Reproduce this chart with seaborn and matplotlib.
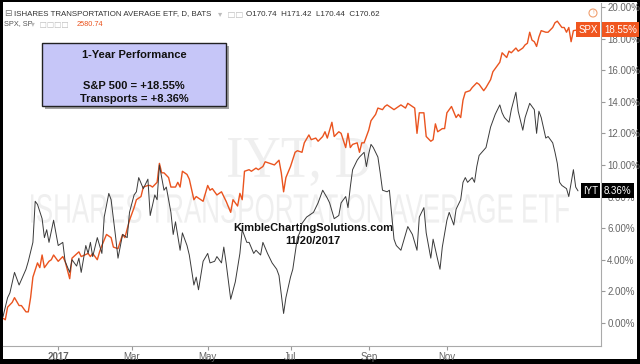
import matplotlib
matplotlib.use('Agg')
import matplotlib.pyplot as plt
import matplotlib.transforms as mtransforms
from matplotlib.patches import Rectangle, PathPatch, Circle
from matplotlib.textpath import TextPath
from matplotlib.font_manager import FontProperties
import pandas as pd
import seaborn as sns

W, H = 640, 364
SPX_COLOR = '#ea541f'
IYT_COLOR = '#3a3a3a'

# trading-session index (0 = mid Nov 2016) and % change since start
iyt_session = [0, 2, 3, 5, 7, 10, 11, 13, 14, 15,
               17, 18, 19, 20, 22, 24, 26, 27, 29, 30,
               32, 33, 34, 36, 37, 38, 39, 41, 43, 44,
               46, 47, 49, 50, 52, 54, 55, 57, 58, 59,
               61, 63, 64, 66, 67, 68, 70, 71, 73, 74,
               75, 77, 78, 80, 81, 83, 84, 85, 87, 89,
               90, 92, 93, 95, 96, 97, 99, 101, 103, 104,
               106, 107, 109, 110, 112, 113, 115, 117, 119, 120,
               122, 123, 125, 126, 128, 129, 130, 132, 133, 135,
               137, 139, 141, 142, 144, 146, 147, 149, 150, 151,
               152, 154, 155, 157, 158, 159, 160, 161, 163, 164,
               165, 167, 168, 170, 171, 173, 174, 176, 178, 180,
               181, 183, 184, 186, 187, 189, 190, 191, 193, 194,
               196, 197, 199, 200, 201, 202, 204, 205, 206, 207,
               210, 212, 214, 216, 217, 218, 220, 221, 223, 224,
               226, 227, 229, 230, 231, 232, 233, 234, 236, 237,
               239, 240, 241, 242, 243, 245, 246, 248, 249, 250]
iyt_pct = [0.4, 1.6, 1.9, 3.2, 2.4, 3.4, 3.9, 5.1, 7.7, 7.5,
           6.6, 5.4, 5.9, 5.1, 6.5, 4.9, 5.1, 3.9, 3.2, 4.0,
           3.6, 4.1, 3.2, 4.9, 4.4, 5.1, 4.2, 5.4, 4.4, 6.7,
           8.2, 7.8, 5.4, 4.1, 5.6, 5.4, 7.0, 8.1, 8.3, 9.2,
           8.5, 9.1, 6.8, 8.1, 7.8, 10.0, 8.4, 8.6, 7.0, 5.6,
           6.4, 4.6, 5.7, 4.9, 4.3, 2.4, 2.9, 2.1, 3.9, 4.4,
           3.8, 3.9, 4.2, 3.8, 4.8, 3.8, 1.5, 2.6, 4.4, 5.9,
           5.1, 5.1, 4.4, 4.6, 4.3, 5.1, 4.4, 3.8, 3.4, 3.0,
           0.6, 1.6, 2.9, 3.4, 5.4, 5.7, 6.3, 6.7, 6.8, 7.0,
           7.6, 8.4, 7.9, 7.6, 6.6, 6.8, 7.6, 8.0, 7.3, 8.6,
           9.7, 10.3, 10.5, 10.8, 9.9, 10.7, 11.3, 11.1, 10.5, 9.5,
           8.4, 8.3, 8.4, 5.3, 4.9, 4.6, 5.1, 6.1, 5.6, 4.6,
           6.7, 7.3, 5.7, 4.1, 5.3, 4.0, 3.4, 4.8, 6.5, 7.0,
           6.2, 7.2, 7.8, 8.9, 9.2, 8.9, 9.2, 8.9, 9.9, 10.6,
           11.1, 12.4, 13.2, 13.8, 13.3, 13.0, 12.7, 13.5, 14.6, 13.4,
           12.2, 13.0, 13.9, 13.7, 13.5, 12.0, 13.4, 13.0, 11.7, 11.8,
           11.4, 10.8, 10.1, 8.9, 8.7, 8.5, 8.0, 9.7, 8.6, 8.36]

spx_session = [0, 1, 2, 4, 5, 7, 8, 10, 11, 12,
               13, 15, 16, 17, 18, 20, 21, 22, 24, 26,
               27, 29, 30, 33, 34, 37, 38, 39, 41, 42,
               43, 45, 47, 48, 50, 52, 53, 55, 57, 58,
               60, 61, 63, 64, 65, 67, 68, 69, 70, 72,
               73, 75, 76, 77, 78, 80, 81, 83, 84, 87,
               89, 90, 91, 93, 95, 97, 99, 100, 102, 103,
               104, 105, 107, 108, 110, 111, 113, 114, 116, 118,
               120, 121, 122, 123, 125, 127, 128, 130, 131, 133,
               134, 136, 137, 139, 140, 141, 143, 144, 146, 147,
               149, 150, 151, 152, 154, 155, 156, 157, 159, 160,
               162, 163, 165, 166, 167, 169, 170, 172, 173, 175,
               176, 178, 179, 180, 181, 183, 184, 186, 187, 188,
               189, 191, 192, 193, 195, 197, 198, 199, 200, 201,
               203, 204, 206, 207, 209, 210, 212, 213, 215, 216,
               217, 219, 220, 221, 223, 224, 226, 227, 228, 229,
               230, 231, 232, 233, 234, 236, 237, 239, 240, 241,
               243, 244, 245, 246, 247, 248, 250]
spx_pct = [0.3, 0.2, 1.0, 1.3, 1.6, 1.1, 1.1, 0.7, 0.7, 1.6,
           2.9, 3.8, 3.5, 4.3, 3.5, 3.9, 4.0, 4.3, 3.9, 4.2,
           3.9, 2.8, 4.1, 4.5, 4.2, 4.4, 4.2, 4.4, 4.0, 4.5,
           4.9, 5.6, 5.4, 4.8, 4.7, 5.6, 5.4, 6.5, 7.3, 7.8,
           8.0, 8.6, 8.7, 8.7, 8.6, 8.9, 10.1, 9.5, 9.5, 9.2,
           8.6, 8.6, 8.9, 8.6, 9.6, 9.4, 9.1, 7.8, 8.0, 7.7,
           8.7, 8.4, 8.5, 8.1, 8.3, 7.7, 7.0, 7.8, 7.4, 8.2,
           7.8, 9.6, 9.7, 9.6, 9.8, 9.7, 9.9, 10.2, 10.1, 10.0,
           10.3, 9.5, 8.3, 9.2, 9.9, 10.8, 10.9, 10.8, 11.4, 11.9,
           11.6, 11.7, 11.5, 11.8, 12.1, 11.7, 12.7, 11.8, 12.1, 12.0,
           11.1, 12.0, 11.1, 11.3, 11.4, 10.8, 11.4, 11.4, 12.2, 12.8,
           13.2, 13.6, 13.5, 13.7, 13.8, 13.6, 13.5, 13.7, 13.8, 13.6,
           13.9, 13.7, 13.6, 12.0, 13.3, 13.3, 11.8, 11.5, 11.6, 12.6,
           12.1, 12.3, 12.3, 13.3, 13.7, 13.0, 13.2, 13.0, 14.1, 14.6,
           14.7, 14.9, 15.2, 15.1, 14.7, 14.9, 15.4, 15.9, 16.3, 16.5,
           17.1, 16.8, 17.2, 17.1, 17.4, 17.2, 17.4, 17.6, 17.7, 18.4,
           17.9, 17.8, 17.5, 18.1, 18.5, 18.4, 18.4, 18.7, 19.0, 19.1,
           18.7, 18.7, 18.4, 18.7, 17.8, 18.5, 18.55]

tick_sessions = [24, 56, 89, 125, 159, 193]
tick_labels = ['2017', 'Mar', 'May', 'Jul', 'Sep', 'Nov']
pct_ticks = [0, 2, 4, 6, 8, 10, 12, 14, 16, 18, 20]


def px(x, y):
    # pixel position (from top-left) -> figure fraction
    return x / W, 1 - y / H


def stretched_text(fig, text, box, family, color, weight='normal'):
    x0, y0, x1, y1 = box
    tp = TextPath((0, 0), text, size=20, prop=FontProperties(family=family, weight=weight))
    ext = tp.get_extents()
    tr = (mtransforms.Affine2D().translate(-ext.x0, -ext.y0)
          .scale((x1 - x0) / ext.width, (y1 - y0) / ext.height)
          .translate(x0, H - y1))
    fig.add_artist(PathPatch(tr.transform_path(tp), fc=color, ec='none', lw=0,
                             transform=mtransforms.IdentityTransform(), zorder=-0.5))


iyt = pd.DataFrame({'session': iyt_session, 'pct': iyt_pct})
spx = pd.DataFrame({'session': spx_session, 'pct': spx_pct})

sns.set_style('white')
plt.rcParams['font.family'] = ['Liberation Sans', 'DejaVu Sans']

fig = plt.figure(figsize=(W / 100, H / 100), dpi=100)
fig.patch.set_facecolor('black')
ident = mtransforms.IdentityTransform()
fig.add_artist(Rectangle((3, 5), 634, 357, transform=ident, fc='white', ec='none', zorder=-1))

# watermarks
stretched_text(fig, 'IYT, D', (228, 138, 370, 186), 'Liberation Serif', '#efefef')
stretched_text(fig, 'ISHARES TRANSPORTATION AVERAGE ETF', (31, 194, 569, 223),
               'Liberation Sans', '#efefef')

ax = fig.add_axes([3 / W, 18 / H, 598 / W, 343 / H])
ax.patch.set_visible(False)

sns.lineplot(data=spx, x='session', y='pct', ax=ax, color=SPX_COLOR, linewidth=1.0)
sns.lineplot(data=iyt, x='session', y='pct', ax=ax, color=IYT_COLOR, linewidth=0.7)

ax.set_xlim(0, 260)
ax.set_ylim(-1.46, 20.25)
ax.set_xlabel('')
ax.set_ylabel('')
ax.yaxis.tick_right()
ax.set_yticks(pct_ticks)
ax.set_yticklabels([f'{v:.2f}%' for v in pct_ticks])
ax.set_xticks(tick_sessions)
ax.set_xticklabels(tick_labels)
ax.xaxis.get_ticklabels()[0].set_fontweight('bold')
ax.xaxis.get_ticklabels()[0].set_color('#222222')
ax.tick_params(axis='both', direction='out', length=3, width=0.8, color='#999999',
               labelsize=7, labelcolor='#666666', pad=1.5, bottom=True, right=True, left=False)
for side in ['left', 'top']:
    ax.spines[side].set_visible(False)
for side in ['right', 'bottom']:
    ax.spines[side].set_color('#aaaaaa')
    ax.spines[side].set_linewidth(0.8)

# last-value tags on the price scale
ytr = ax.get_yaxis_transform()
for name, val, col in [('SPX', spx_pct[-1], '#f0561f'), ('IYT', iyt_pct[-1], '#000000')]:
    ax.text(1 - 3 / 598, val, name, transform=ytr, ha='right', va='center', fontsize=7,
            color='white', zorder=10, bbox=dict(boxstyle='square,pad=0.25', fc=col, ec='none'))
    ax.text(1 + 3 / 598, val, f'{val:.2f}%', transform=ytr, ha='left', va='center', fontsize=7,
            color='white', zorder=10, bbox=dict(boxstyle='square,pad=0.25', fc=col, ec='none'))

# header
fig.text(*px(4, 14), '\u229f', fontsize=6.5, color='#777777', va='center', family='DejaVu Sans')
fig.text(*px(14, 14), 'ISHARES TRANSPORTATION AVERAGE ETF, D, BATS', fontsize=5.7,
         color='#333333', va='center')
fig.text(*px(218, 14), '\u25be  \u25a1\u25a1', fontsize=6, color='#bbbbbb', va='center',
         family='DejaVu Sans')
fig.text(*px(246, 14), 'O170.74  H171.42  L170.44  C170.62', fontsize=5.8,
         color='#333333', va='center')
fig.text(*px(4, 24), 'SPX, SP', fontsize=5.3, color='#555555', va='center')
fig.text(*px(31, 24), '\u25be  \u25a1\u25a1\u25a1\u25a1', fontsize=5.5, color='#bbbbbb',
         va='center', family='DejaVu Sans')
fig.text(*px(77, 24), '2580.74', fontsize=5.3, color=SPX_COLOR, va='center')
fig.add_artist(Circle((593, H - 13), 4, transform=ident, fc='none', ec='#f0a070', lw=0.8))
fig.text(*px(593, 13), '!', fontsize=4.5, color='#f0a070', ha='center', va='center')

# info box
fig.add_artist(Rectangle((45, H - 109), 184, 63, transform=ident, fc='#666666', ec='none',
                         alpha=0.6, zorder=5))
fig.add_artist(Rectangle((42, H - 106), 184, 63, transform=ident, fc='#c6c6f8',
                         ec='#222222', lw=1.0, zorder=5))
fig.text(*px(134, 55), '1-Year Performance', fontsize=8, fontweight='bold', ha='center',
         va='center', color='#111111', zorder=6)
fig.text(*px(134, 86), 'S&P 500 = +18.55%', fontsize=8, fontweight='bold', ha='center',
         va='center', color='#111111', zorder=6)
fig.text(*px(134, 99), 'Transports = +8.36%', fontsize=8, fontweight='bold', ha='center',
         va='center', color='#111111', zorder=6)

fig.text(*px(313, 228), 'KimbleChartingSolutions.com', fontsize=8, fontweight='bold',
         ha='center', va='center', color='#111111', zorder=6)
fig.text(*px(313, 241), '11/20/2017', fontsize=8, fontweight='bold',
         ha='center', va='center', color='#111111', zorder=6)

fig.savefig('out.png', dpi=100, facecolor=fig.get_facecolor())
